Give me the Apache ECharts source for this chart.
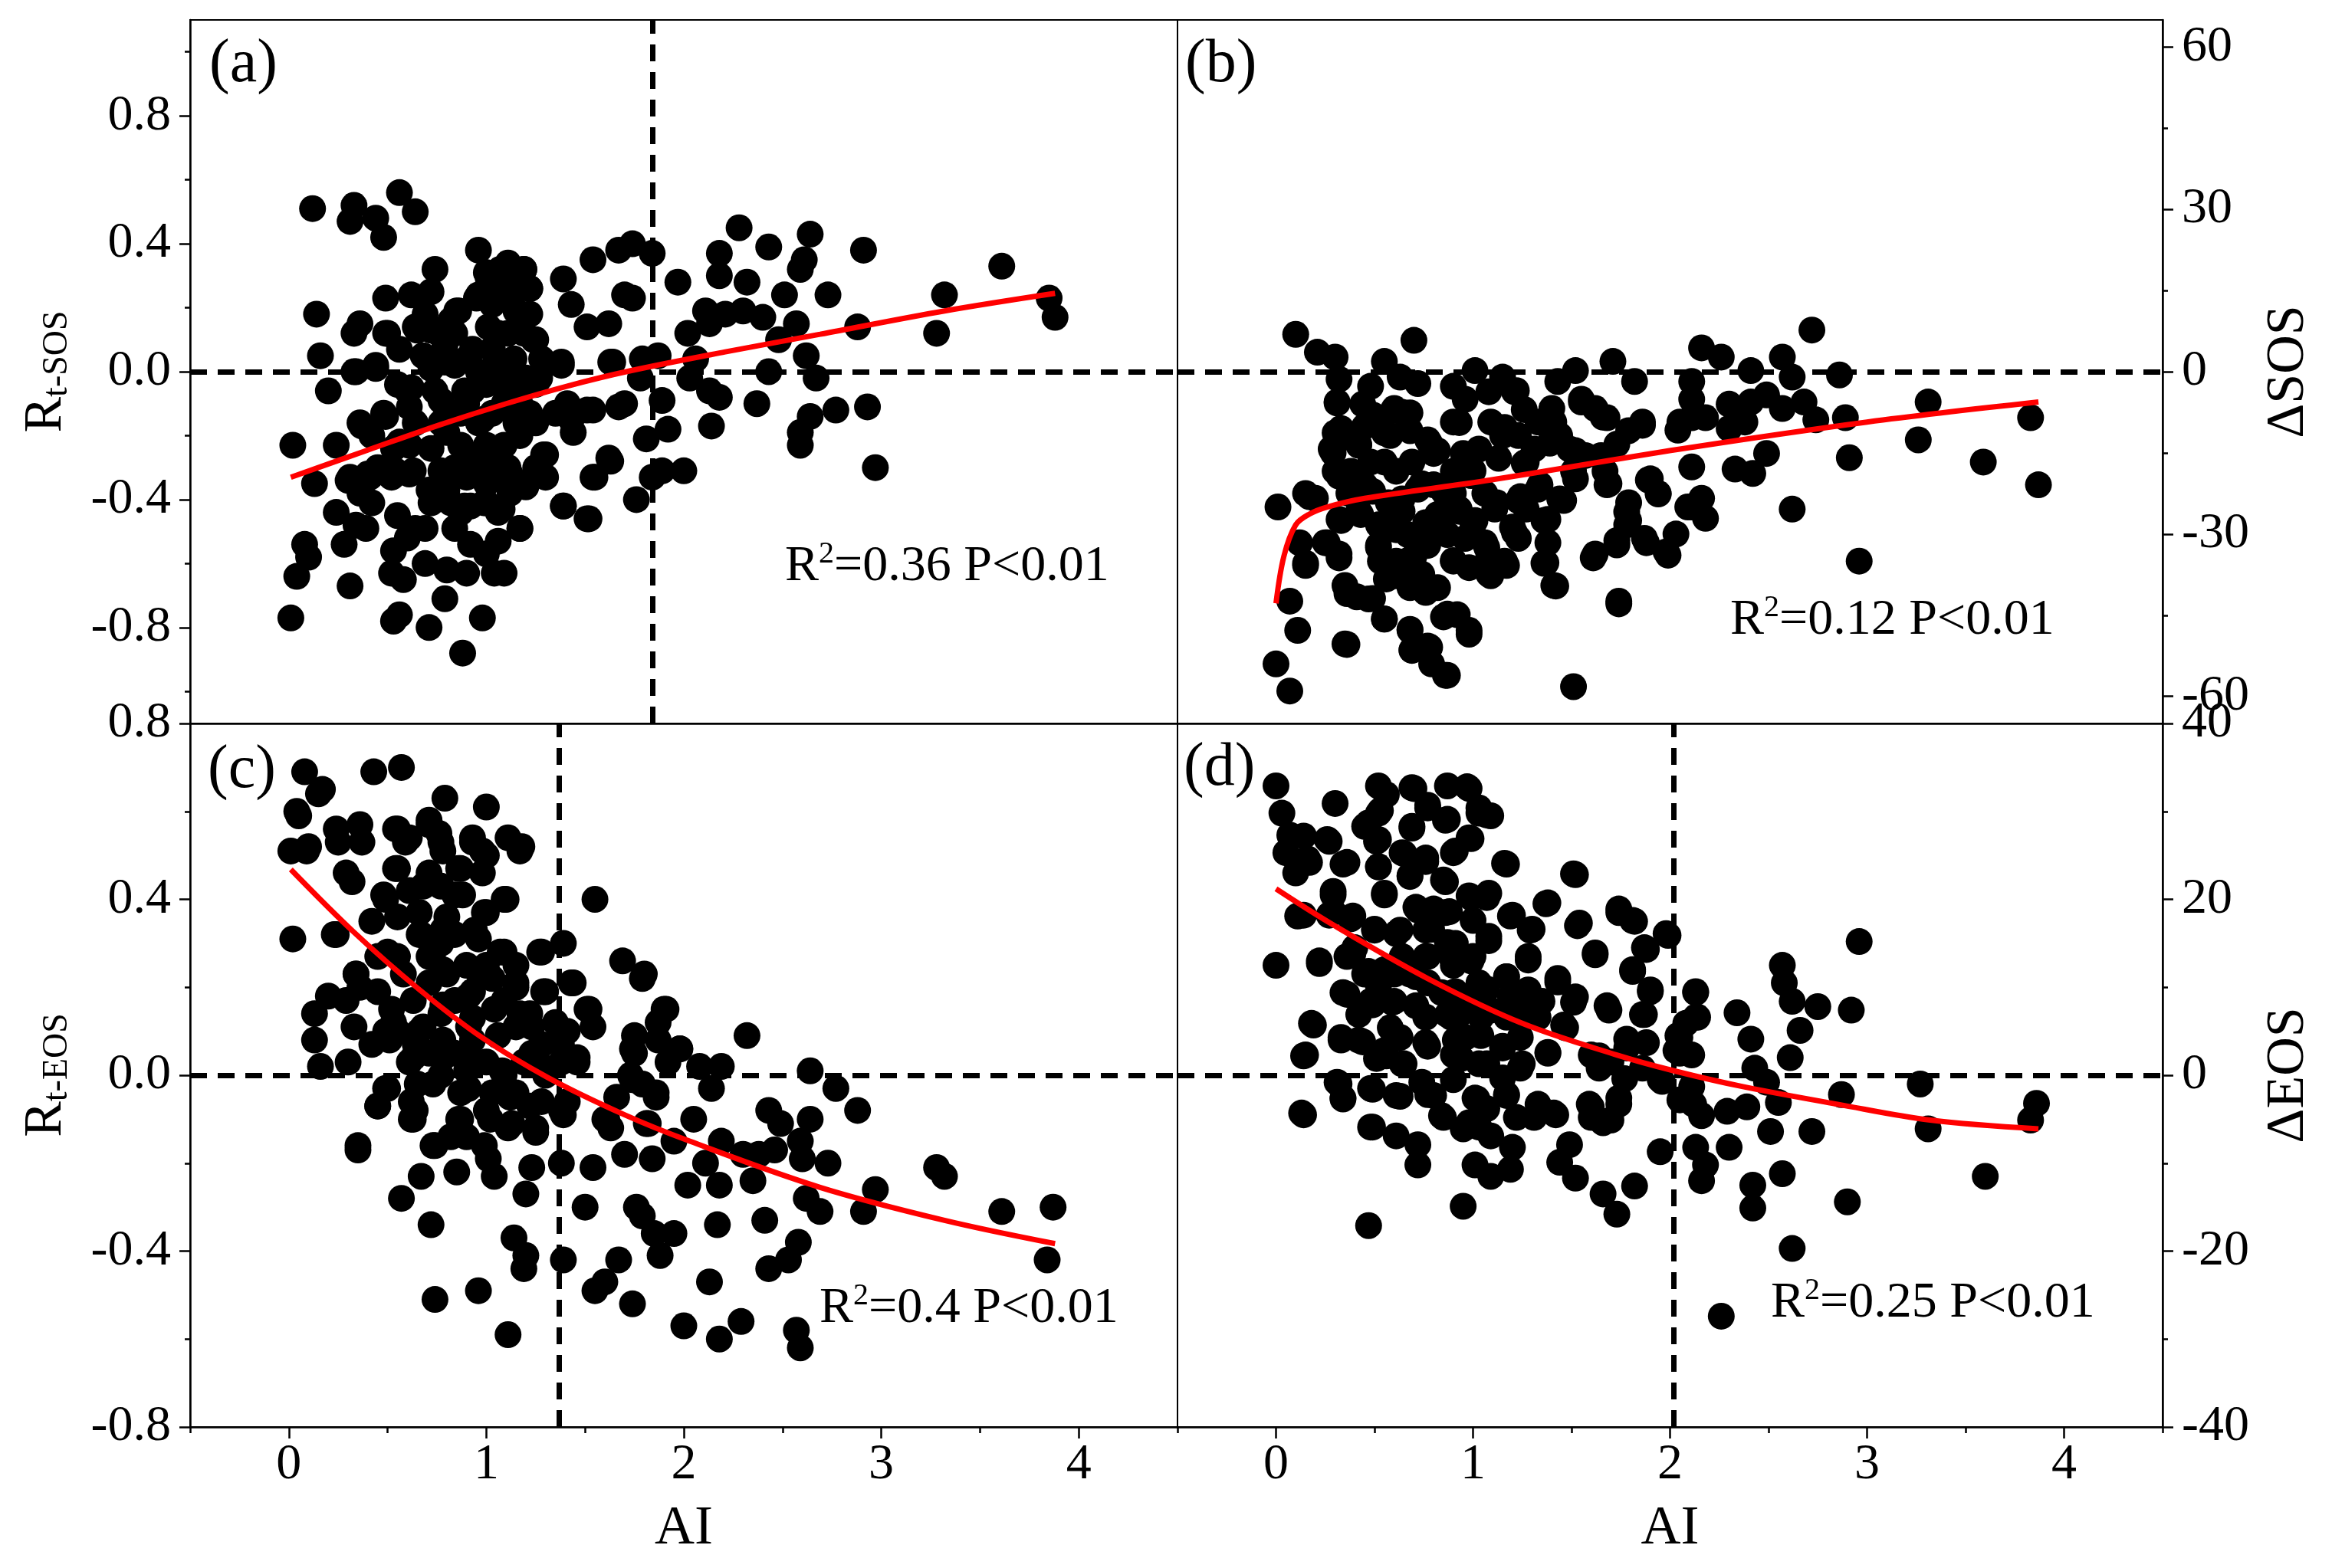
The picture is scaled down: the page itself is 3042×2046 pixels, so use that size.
<!DOCTYPE html>
<html lang="en" style="height: 100%">
<head>
<meta charset="utf-8">
<title>AI vs R and delta SOS/EOS</title>
</head>
<body style="height: 100%; margin: 0; background: #fff">
<div id="container" style="height: 100%"></div>

<script type="text/javascript" src="https://cdn.jsdelivr.net/npm/echarts/dist/echarts.min.js"></script>

<script type="text/javascript">

// ---- data: [AI, value] ----
var ptsA = [
  [0.12,0.51],[0.33,0.52],[0.31,0.47],[0.44,0.48],[0.48,0.42],[0.56,0.56],[0.64,0.50],[0.14,0.18],[0.16,0.05],[0.20,-0.06],
  [0.02,-0.23],[0.13,-0.35],[0.08,-0.54],[0.10,-0.58],[0.04,-0.64],[0.01,-0.77],[0.33,0.12],[0.36,0.15],[0.34,0.00],[0.24,-0.23],
  [0.24,-0.44],[0.31,-0.33],[0.41,-0.33],[0.36,-0.16],[0.42,-0.20],[0.28,-0.54],[0.31,-0.67],[0.34,-0.48],[0.39,-0.49],[0.44,0.02],
  [0.49,0.23],[0.62,0.24],[0.50,0.12],[0.64,0.14],[0.56,0.07],[0.55,-0.04],[0.60,-0.06],[0.48,-0.13],[0.53,-0.24],[0.52,-0.33],
  [0.61,-0.32],[0.55,-0.45],[0.53,-0.56],[0.52,-0.63],[0.56,-0.76],[0.53,-0.78],[0.60,-0.52],[0.64,-0.49],[0.58,-0.65],[0.74,0.32],
  [0.72,0.25],[0.69,0.18],[0.76,0.12],[0.80,0.14],[0.68,0.05],[0.79,0.03],[0.74,-0.06],[0.77,-0.09],[0.80,-0.19],[0.72,-0.24],
  [0.77,-0.31],[0.72,-0.41],[0.69,-0.49],[0.69,-0.60],[0.71,-0.80],[0.79,-0.71],[0.80,-0.62],[0.84,-0.49],[0.85,0.19],[0.82,-0.41],
  [0.96,0.38],[1.00,0.31],[0.95,0.23],[1.01,0.14],[0.93,0.07],[0.96,0.00],[0.93,-0.06],[0.90,-0.10],[1.03,-0.13],[1.00,-0.23],
  [1.00,-0.30],[0.90,-0.33],[0.92,-0.42],[0.87,-0.44],[0.92,-0.54],[0.90,-0.63],[1.00,-0.57],[1.06,-0.53],[0.98,-0.77],[0.88,-0.88],
  [1.04,-0.63],[1.09,-0.63],[1.06,-0.33],[1.00,-0.41],[1.06,-0.44],[1.07,0.32],[1.11,0.34],[1.09,0.24],[1.11,0.12],[1.19,0.32],
  [1.22,0.26],[1.15,0.19],[1.19,0.12],[1.25,0.10],[1.14,0.04],[1.20,-0.02],[1.15,-0.09],[1.22,-0.13],[1.17,-0.20],[1.30,-0.26],
  [1.25,-0.30],[1.20,-0.35],[1.30,-0.33],[1.17,-0.49],[1.11,-0.30],[1.27,-0.02],[1.39,0.29],[1.43,0.21],[1.38,0.03],[1.41,-0.10],
  [1.54,-0.12],[1.44,-0.19],[1.39,-0.42],[1.52,-0.46],[1.55,-0.33],[1.63,-0.28],[1.54,0.35],[1.51,0.14],[1.67,0.38],[1.74,0.40],
  [1.62,0.15],[1.70,0.24],[1.74,0.23],[1.63,0.03],[1.70,-0.10],[1.78,-0.02],[1.79,0.04],[1.76,-0.40],[1.84,-0.33],[1.81,-0.21],
  [1.84,0.37],[1.87,0.05],[1.89,-0.09],[1.92,-0.18],[1.89,-0.31],[2.00,-0.31],[1.97,0.28],[2.02,0.12],[2.18,0.37],[2.18,0.30],
  [2.13,0.15],[2.21,0.18],[2.03,-0.02],[2.06,0.04],[2.13,-0.06],[2.18,-0.08],[2.14,-0.17],[2.11,0.19],[2.28,0.45],[2.32,0.28],
  [2.30,0.19],[2.40,0.17],[2.43,0.39],[2.48,0.10],[2.51,0.24],[2.37,-0.10],[2.43,0.00],[2.64,0.43],[2.61,0.35],[2.59,0.32],
  [2.57,0.15],[2.62,0.05],[2.67,-0.02],[2.73,0.24],[2.77,-0.12],[2.64,-0.14],[2.59,-0.19],[2.59,-0.23],[2.88,0.14],[2.91,0.38],
  [2.93,-0.11],[2.97,-0.30],[3.28,0.12],[3.32,0.24],[3.61,0.33],[3.85,0.23],[3.88,0.17],
  [0.84,0.12],[0.90,0.04],[1.03,0.07],[1.09,-0.02],[1.00,-0.04],[1.09,-0.10],[1.15,-0.16],[0.96,-0.16],[0.87,-0.23],[1.09,-0.23],
  [0.93,-0.27],[0.84,-0.30],[0.80,-0.37],[1.12,-0.38],[1.03,0.21],[1.15,0.26],[1.22,0.18],[1.28,0.04],[1.06,0.12],[0.87,-0.13],
  [1.25,-0.16],[1.35,-0.13],[1.00,-0.35],[0.71,-0.37],[0.61,-0.23],[0.64,-0.16],[0.77,-0.16],[0.45,-0.30],[0.42,-0.41],[0.36,-0.38],
  [1.10,0.33],[1.19,0.32],[1.22,0.26],[1.01,0.29],[0.96,0.24],[0.86,0.19],[0.72,0.13],[0.65,0.13],[0.49,0.12],[0.33,0.00],
  [0.44,0.01],[0.62,-0.05],[0.61,-0.11],[0.49,-0.14],[0.37,-0.17],[0.56,-0.22],[0.63,-0.31],[0.54,-0.31],[0.40,-0.32],[0.30,-0.34],
  [0.72,-0.37],[0.79,-0.37],[0.89,-0.42],[0.99,-0.41],[1.08,-0.43],[1.17,-0.49],[1.20,-0.36],[1.29,-0.26],[1.38,0.02],[1.43,-0.15],
  [1.51,-0.12],[1.64,0.03],[1.67,-0.11],[1.62,-0.27],[1.54,-0.33],[1.39,-0.42],[1.51,-0.46],[1.03,0.07],[1.06,0.03],[1.24,0.10],
  [1.25,-0.04],[1.17,-0.10],[1.10,-0.06],[0.98,-0.15],[0.89,-0.06],[0.84,0.02],[0.92,-0.26],[1.01,-0.26],[1.12,-0.32],[0.72,0.01],
  [0.79,0.08],[0.82,0.16]
];

var ptsB = [
  [0.10,6.9],[0.70,5.8],[0.21,3.6],[0.30,2.7],[0.55,1.9],[0.63,-1.0],[0.72,-2.2],[0.32,-1.4],[0.48,-2.7],[0.31,-5.6],
  [0.44,-6.0],[0.33,-10.5],[0.28,-14.3],[0.30,-18.4],[0.01,-25.0],[0.15,-22.5],[0.20,-23.4],[0.12,-31.6],[0.15,-35.4],[0.26,-31.6],
  [0.32,-33.7],[0.07,-42.4],[0.11,-47.8],[0.00,-54.0],[0.07,-59.0],[0.35,-50.3],[0.35,-39.5],[0.41,-41.6],[0.47,-42.0],[0.55,-45.7],
  [0.68,-47.8],[0.69,-51.5],[0.79,-54.0],[0.87,-56.1],[0.85,-45.3],[0.92,-44.9],[0.98,-47.8],[0.77,-50.7],[1.51,-58.2],[1.74,-42.4],
  [1.41,-39.5],[2.96,-35.0],[2.62,-25.4],[2.72,7.7],[2.16,4.4],[2.26,2.7],[2.57,2.7],[2.41,0.2],[2.86,-0.6],[3.31,-5.6],
  [3.83,-8.5],[3.87,-20.9],[3.59,-16.7],[3.26,-12.6],[2.91,-15.9],[2.89,-8.5],[2.74,-8.9],[2.68,-5.6],[2.62,-1.0],[2.57,-6.8],
  [2.49,-4.3],[2.41,-5.6],[2.30,-6.0],[2.30,-10.5],[2.38,-9.3],[2.49,-15.1],[2.42,-18.8],[2.33,-18.0],[2.11,-1.8],[2.11,-5.1],
  [2.11,-8.5],[2.18,-8.5],[2.05,-9.3],[2.11,-17.6],[2.16,-23.4],[2.11,-25.0],[2.18,-27.1],[2.03,-30.0],[1.98,-33.3],[1.87,-30.8],
  [1.79,-24.2],[1.79,-27.5],[1.73,-31.2],[1.62,-33.7],[1.89,-20.0],[1.94,-22.5],[1.86,-9.3],[1.79,-10.9],[1.68,-8.5],[1.62,-6.8],
  [1.55,-5.1],[1.52,0.2],[1.43,-1.8],[1.71,1.9],[1.82,-1.8],[1.73,-13.4],[1.67,-18.4],[1.68,-20.9],[1.57,-15.5],[1.49,-14.3],
  [1.51,-18.4],[1.40,-6.8],[1.41,-9.3],[1.44,-11.8],[1.33,-9.3],[1.31,-14.3],[1.27,-16.7],[1.34,-20.9],[1.46,-23.8],[1.36,-27.5],
  [1.38,-31.6],[1.36,-35.4],[1.15,-1.0],[1.22,-3.5],[1.01,0.2],[0.90,-2.7],[0.96,-5.1],[0.90,-9.3],[1.09,-9.3],[1.15,-11.8],
  [1.23,-11.8],[1.03,-14.3],[0.95,-15.1],[0.77,-12.6],[0.80,-15.1],[0.68,-7.6],[0.60,-6.8],[0.54,-8.5],[0.45,-10.1],[0.58,-11.8],
  [0.55,-16.7],[0.61,-18.4],[0.69,-16.7],[0.72,-21.7],[0.90,-18.4],[0.99,-19.2],[1.06,-22.5],[1.12,-24.2],[1.23,-23.8],[1.27,-25.4],
  [1.20,-28.7],[1.23,-30.8],[1.16,-35.0],[1.08,-37.4],[0.98,-36.2],[0.90,-35.0],[0.96,-30.8],[1.06,-31.6],[0.84,-29.2],[0.76,-27.9],
  [0.77,-32.1],[0.74,-37.4],[0.76,-40.8],[0.68,-39.9],[0.56,-38.3],[0.61,-35.0],[0.52,-32.1],[0.53,-35.0],[0.52,-28.3],[0.42,-25.8],
  [0.37,-22.5],[0.33,-27.5],[0.57,-24.2],[0.64,-25.8],[0.87,-24.2],[0.93,-25.8],[1.01,-27.5],[0.90,-22.5],[0.80,-20.9],[0.45,-20.9],
  [0.38,-18.4],[0.42,-13.4],[0.48,-16.7],[0.31,-12.6],[0.68,-10.9],[0.61,-29.2],[0.70,-34.1],[0.82,-39.9],[1.08,-34.1],
  [0.31,-5.8],[0.30,-11.3],[0.29,-15.0],[0.32,-19.3],[0.42,-13.6],[0.64,-7.5],[0.78,-13.2],[0.82,-14.6],[0.93,-9.4],[1.08,-3.7],
  [1.21,-3.7],[1.39,-8.9],[1.55,-5.6],[1.66,-8.4],[1.86,-9.9],[2.04,-10.8],[1.52,-14.6],[1.65,-15.5],[1.69,-20.7],[1.52,-19.8],
  [1.90,-19.8],[1.94,-22.6],[2.09,-25.0],[1.78,-25.9],[1.78,-28.3],[1.73,-32.0],[1.61,-34.4],[1.88,-31.6],[1.99,-33.9],[1.42,-39.6],
  [1.74,-42.9],[1.38,-27.3],[1.37,-35.3],[1.21,-29.7],[1.17,-35.8],[1.09,-37.7],[0.90,-34.9],[0.77,-39.6],[0.55,-45.7],[0.36,-41.0],
  [0.49,-41.9],[0.68,-47.6],[0.36,-50.4],[0.87,-44.8],[0.98,-48.5],[0.69,-51.4],[0.78,-50.9],[0.86,-56.1],[0.15,-35.8],[0.25,-31.6],
  [0.32,-34.4],[0.52,-32.5],[0.61,-37.7],[0.67,-34.9],[0.77,-30.1],[0.87,-30.1],[1.00,-28.3],[1.07,-32.5],[1.11,-25.4],[1.24,-23.1],
  [1.33,-21.7],[1.44,-23.5],[0.43,-26.4],[0.32,-27.3],[0.17,-23.1],[0.49,-22.1],[0.64,-23.5],[0.74,-20.7],[0.85,-22.1],[1.00,-18.3],
  [1.13,-16.0],[1.26,-16.9],[1.39,-13.2],[1.16,-10.3],[1.26,-7.0],[0.49,-8.0],[0.55,-11.3],[0.93,-18.3],[0.82,-26.4],[0.93,-25.4],
  [0.56,-28.3],[0.67,-30.1]
];

var ptsC = [
  [0.08,0.69],[0.17,0.65],[0.04,0.60],[0.01,0.51],[0.10,0.52],[0.43,0.69],[0.57,0.70],[0.79,0.63],[1.00,0.61],[0.24,0.56],
  [0.36,0.57],[0.37,0.53],[0.25,0.53],[0.29,0.46],[0.32,0.44],[0.55,0.56],[0.61,0.54],[0.71,0.58],[0.77,0.53],[0.93,0.54],
  [1.11,0.54],[1.18,0.52],[1.00,0.50],[0.98,0.46],[0.87,0.47],[0.55,0.47],[0.71,0.46],[0.48,0.41],[0.61,0.42],[0.77,0.43],
  [0.88,0.41],[1.09,0.40],[1.00,0.37],[1.55,0.40],[0.02,0.31],[0.24,0.32],[0.42,0.35],[0.55,0.36],[0.66,0.37],[0.80,0.36],
  [0.66,0.32],[0.77,0.30],[0.96,0.31],[1.09,0.28],[0.90,0.25],[1.00,0.25],[1.27,0.28],[1.39,0.30],[1.69,0.26],[1.80,0.23],
  [1.44,0.21],[1.30,0.19],[0.34,0.23],[0.20,0.18],[0.13,0.14],[0.13,0.08],[0.16,0.02],[0.30,0.03],[0.33,0.11],[0.29,0.17],
  [0.45,0.19],[0.52,0.15],[0.49,0.10],[0.63,0.17],[0.71,0.21],[0.80,0.23],[0.68,0.11],[0.77,0.14],[0.93,0.19],[0.93,0.13],
  [1.09,0.17],[1.15,0.21],[1.22,0.14],[1.06,0.09],[0.93,0.08],[0.84,0.05],[0.71,0.05],[0.61,0.03],[0.55,0.10],[0.65,-0.02],
  [0.77,0.00],[0.87,-0.04],[1.00,0.03],[1.09,0.00],[1.19,0.03],[1.28,0.07],[1.35,0.12],[1.41,0.10],[1.51,0.15],[1.54,0.11],
  [1.46,0.04],[1.38,0.07],[1.90,0.15],[1.87,0.12],[1.75,0.09],[1.75,0.05],[1.98,0.06],[1.92,0.03],[2.32,0.09],[2.08,0.02],
  [2.19,0.02],[2.14,-0.03],[2.64,0.01],[2.77,-0.03],[2.88,-0.08],[1.73,0.00],[1.79,-0.02],[1.86,-0.05],[1.66,-0.05],[1.60,-0.10],
  [1.63,-0.12],[1.81,-0.11],[2.05,-0.10],[1.95,-0.15],[2.43,-0.08],[2.49,-0.11],[2.64,-0.10],[2.46,-0.17],[2.59,-0.15],[2.19,-0.15],
  [2.30,-0.18],[2.38,-0.18],[2.60,-0.19],[2.73,-0.20],[1.70,-0.18],[1.84,-0.19],[2.11,-0.20],[2.18,-0.25],[2.02,-0.25],[2.35,-0.24],
  [2.62,-0.28],[2.69,-0.31],[2.97,-0.26],[2.91,-0.31],[3.28,-0.21],[3.32,-0.23],[3.61,-0.31],[3.87,-0.30],[3.84,-0.42],[1.54,-0.21],
  [1.38,-0.20],[1.23,-0.21],[1.20,-0.27],[1.04,-0.23],[1.01,-0.19],[0.85,-0.22],[0.67,-0.23],[0.57,-0.28],[0.72,-0.34],[0.35,-0.17],
  [0.45,-0.07],[0.50,-0.03],[0.63,-0.10],[0.62,-0.06],[0.74,-0.16],[0.82,-0.14],[0.90,-0.14],[0.87,-0.10],[1.00,-0.08],[1.11,-0.12],
  [1.25,-0.12],[1.39,-0.09],[1.28,-0.06],[1.12,-0.05],[1.50,-0.30],[1.76,-0.30],[1.79,-0.32],[1.85,-0.36],[1.95,-0.36],[2.17,-0.34],
  [2.41,-0.33],[2.58,-0.38],[2.53,-0.42],[2.43,-0.44],[1.88,-0.41],[1.67,-0.42],[1.39,-0.42],[1.14,-0.37],[1.20,-0.41],[1.19,-0.44],
  [0.96,-0.49],[0.74,-0.51],[1.11,-0.59],[1.60,-0.47],[1.55,-0.49],[1.74,-0.52],[2.13,-0.47],[2.00,-0.57],[2.18,-0.60],[2.29,-0.56],
  [2.57,-0.58],[2.59,-0.62],
  [0.45,0.27],[0.58,0.23],[0.84,0.17],[1.03,0.22],[1.15,0.11],[0.90,0.01],[0.64,0.07],[0.42,0.07],[0.36,0.20],[0.55,0.27],
  [0.71,0.27],[0.84,0.32],[1.15,0.25],[1.28,0.02],[1.03,-0.04],[1.22,-0.07],
  [0.15,0.64],[0.05,0.59],[0.09,0.51],[0.54,0.56],[0.71,0.57],[0.76,0.55],[0.59,0.53],[0.78,0.51],[0.93,0.53],[0.98,0.51],
  [1.17,0.51],[0.54,0.47],[0.86,0.47],[0.49,0.40],[0.68,0.43],[0.84,0.41],[1.10,0.40],[0.99,0.37],[0.66,0.37],[0.23,0.32],
  [0.67,0.32],[0.78,0.33],[0.94,0.33],[0.50,0.28],[0.73,0.28],[1.07,0.28],[1.28,0.28],[0.34,0.23],[0.53,0.12],[0.51,0.08],
  [0.66,0.10],[0.78,0.24],[0.95,0.24],[1.15,0.20],[1.29,0.19],[1.79,0.22],[1.43,0.21],[1.52,0.15],[1.38,0.10],[1.91,0.15],
  [1.87,0.08],[1.74,0.06],[1.98,0.06],[0.91,0.18],[1.04,0.15],[1.17,0.14],[1.23,0.11],[0.78,0.16],[0.63,0.04],[0.78,0.04],
  [0.91,0.03],[1.08,0.01],[1.23,0.05],[1.38,0.03],[1.46,0.03],[0.49,-0.03],[0.45,-0.07],[0.64,-0.08],[0.62,-0.10],[0.86,-0.10],
  [1.02,-0.10],[1.13,-0.11],[1.25,-0.13],[1.38,-0.08],[1.41,-0.06],[1.61,-0.10],[1.82,-0.11],[1.86,-0.04],[1.74,-0.01],[0.73,-0.02],
  [0.91,-0.03],[1.15,-0.04],[0.99,-0.16],[0.73,-0.16],[0.35,-0.16],[0.78,0.08],[0.91,0.11],[1.30,0.00]
];

var ptsD = [
  [0.00,32.9],[0.03,29.8],[0.07,27.3],[0.05,25.3],[0.10,23.0],[0.17,24.2],[0.11,18.1],[0.00,12.5],[0.22,13.0],[0.18,5.9],
  [0.15,2.3],[0.13,-4.3],[0.30,30.9],[0.26,26.8],[0.36,24.2],[0.29,20.9],[0.29,18.6],[0.39,18.1],[0.40,14.5],[0.34,9.4],
  [0.33,4.3],[0.44,3.8],[0.31,-0.8],[0.34,-2.6],[0.48,-5.9],[0.47,-17.1],[0.48,-1.5],[0.45,28.3],[0.52,32.9],[0.56,31.9],
  [0.53,30.1],[0.52,26.8],[0.52,23.7],[0.55,20.7],[0.50,16.6],[0.61,16.1],[0.45,11.5],[0.48,8.4],[0.60,8.4],[0.55,2.8],
  [0.64,1.3],[0.61,-2.3],[0.61,-6.9],[0.72,-7.9],[0.72,-10.2],[0.69,32.7],[0.69,28.3],[0.64,25.3],[0.68,22.7],[0.76,24.7],
  [0.77,30.4],[0.87,32.9],[0.97,32.8],[0.87,29.1],[0.98,27.0],[0.90,25.3],[0.85,22.2],[1.07,29.6],[1.03,30.4],[1.16,24.1],
  [1.51,22.9],[0.98,20.4],[1.08,20.7],[0.71,19.1],[0.80,18.9],[0.88,18.6],[0.79,16.6],[0.87,15.1],[1.00,17.6],[1.08,15.8],
  [1.19,18.1],[1.30,16.6],[1.38,19.6],[1.54,17.3],[1.74,18.9],[1.81,17.6],[1.98,16.1],[1.87,14.5],[1.62,13.9],[1.28,13.5],
  [1.00,13.5],[0.90,12.5],[0.68,11.5],[0.77,10.5],[1.17,11.2],[1.43,11.0],[1.81,12.0],[1.90,9.7],[2.13,9.4],[1.52,8.9],
  [1.35,8.4],[1.19,8.9],[1.00,8.9],[0.93,6.9],[1.09,7.4],[1.28,6.9],[1.68,7.9],[1.86,6.9],[2.14,6.6],[2.08,5.9],
  [2.34,7.1],[2.57,12.5],[2.58,10.5],[2.62,8.4],[2.75,7.8],[2.92,7.4],[2.96,15.2],[2.66,5.1],[2.41,4.1],[2.61,2.0],
  [2.43,0.8],[2.49,-0.8],[2.55,-3.1],[2.87,-2.2],[3.27,-1.0],[3.86,-3.2],[3.83,-5.1],[3.31,-6.1],[3.60,-11.5],[2.90,-14.4],
  [2.72,-6.4],[2.51,-6.4],[2.62,-19.7],[2.26,-27.4],[2.57,-11.2],[2.42,-12.5],[2.42,-15.1],[2.30,-8.2],[2.29,-4.1],[2.39,-3.6],
  [2.16,-4.6],[2.13,-8.2],[2.18,-10.2],[2.16,-12.0],[1.95,-8.7],[2.05,-2.8],[2.11,-1.3],[2.11,2.3],[2.05,4.3],[2.03,2.8],
  [1.95,-0.5],[1.86,0.8],[1.78,4.1],[1.70,1.5],[1.60,2.3],[1.74,-2.6],[1.70,-5.1],[1.59,-3.3],[1.60,-4.8],[1.49,-7.9],
  [1.44,-9.9],[1.52,-11.7],[1.66,-13.5],[1.73,-15.8],[1.82,-12.6],[1.41,-4.3],[1.31,-4.8],[1.38,2.6],[1.25,1.3],[1.15,-0.3],
  [1.17,-2.3],[1.07,-3.8],[1.22,-4.8],[1.03,-5.9],[1.09,-6.9],[1.20,-8.2],[1.01,-10.2],[1.09,-11.5],[1.19,-10.7],[0.95,-14.9],
  [0.95,-6.1],[0.84,-4.6],[1.01,-2.6],[0.90,-0.5],[0.80,-2.3],[0.74,-0.8],[0.77,3.3],[0.90,2.3],[0.96,4.3],[1.03,1.3],
  [1.15,3.3],[1.24,4.3],[1.31,7.4],[0.58,5.4],[0.63,4.3],[0.87,6.9],[0.71,7.9],[1.28,9.7],[1.47,5.4],
  [0.84,9.4],[1.03,10.5],[0.64,13.5],[0.55,12.0],[0.36,13.5],[0.42,6.9],[0.77,13.5],
  [0.70,32.6],[0.98,32.6],[0.52,29.8],[0.77,30.7],[0.86,29.0],[1.03,29.8],[1.09,29.5],[0.69,28.1],[0.47,28.7],[0.51,26.6],
  [0.27,26.6],[0.14,27.2],[0.34,24.0],[0.16,24.6],[0.65,25.2],[0.76,24.3],[0.91,25.5],[0.99,26.9],[0.52,23.7],[0.68,22.6],
  [0.86,22.0],[0.55,20.5],[0.29,20.5],[0.38,17.8],[0.27,18.2],[0.14,18.2],[0.72,18.8],[0.86,18.5],[0.99,20.2],[1.07,20.2],
  [1.20,18.2],[1.29,16.5],[1.37,19.5],[1.52,22.8],[1.17,24.0],[1.53,17.0],[1.74,18.5],[1.82,17.5],[1.99,15.9],[1.88,14.3],
  [1.62,13.7],[1.81,11.8],[1.90,9.5],[2.13,9.5],[0.50,16.5],[0.63,16.5],[0.76,16.5],[0.91,15.0],[1.08,15.3],[0.39,13.8],
  [0.22,12.7],[0.47,11.8],[0.76,13.5],[0.89,13.5],[0.99,13.0],[1.28,13.1],[1.17,11.2],[0.60,11.5],[0.71,11.2],[0.36,9.2],
  [0.52,10.1],[0.91,9.5],[1.07,9.8],[1.28,8.9],[1.43,10.6],[1.51,8.3],[1.69,7.4],[1.87,6.9],[0.49,8.0],[0.59,8.3],
  [0.76,6.6],[0.89,6.6],[1.04,6.6],[1.17,6.6],[1.33,6.6],[1.46,5.7],[0.19,5.7],[0.33,4.0],[0.42,4.0],[0.56,2.2],
  [0.76,3.7],[0.91,4.0],[1.04,4.5],[1.15,3.1],[1.24,0.8],[1.38,2.5],[1.64,2.2],[1.78,3.1],[1.88,3.7],[2.04,4.5],
  [2.13,6.6],[2.05,2.5],[1.96,-0.7],[1.77,-0.4],[1.64,0.8],[0.94,1.9],[1.07,1.3],[0.65,1.3],[0.51,1.9],[0.14,2.2],
  [0.32,-1.0],[0.34,-2.7],[0.49,-1.6],[0.63,-2.4],[0.77,-2.2],[1.02,-2.7],[1.17,-2.2],[1.33,-3.3],[1.42,-4.5],[1.60,-3.6],
  [1.74,-3.3],[1.66,-5.4],[0.85,-4.8],[0.98,-5.4],[0.49,-5.9],[0.14,-4.5],[2.12,-3.3]
];

// fitted curves
var fitA = [[0.01,-0.33],[0.4,-0.245],[0.77,-0.165],[1.1,-0.1],[1.41,-0.045],[1.73,0.003],[2.21,0.062],[2.69,0.117],[3.32,0.19],[3.88,0.245]];
var fitB = [[0.0,-42.8],[0.04,-34.1],[0.10,-28.3],[0.17,-26.3],[0.26,-25.0],[0.45,-23.4],[1.09,-20.0],[2.05,-14.3],[3.0,-9.3],[3.87,-5.6]];
var fitC = [[0.01,0.468],[0.33,0.325],[0.66,0.195],[0.98,0.085],[1.31,-0.005],[1.7,-0.09],[2.03,-0.15],[2.69,-0.255],[3.32,-0.33],[3.88,-0.383]];
var fitD = [[0.0,21.2],[0.29,17.1],[0.77,11.0],[1.25,5.9],[1.73,2.3],[2.02,0.5],[2.37,-1.3],[2.85,-3.3],[3.32,-5.1],[3.87,-6.1]];

// vertical reference lines (AI)
var refA = 1.845, refC = 1.37, refD = 2.02;

// tick values
var aiTicks = [0, 1, 2, 3, 4];
var aiMinor = [-0.5, 0.5, 1.5, 2.5, 3.5, 4.5];
var rTicks = [-0.8, -0.4, 0, 0.4, 0.8];
var rMinorTop = [-1.0, -0.6, -0.2, 0.2, 0.6, 1.0];
var rMinorBot = [-0.6, -0.2, 0.2, 0.6];
var sosTicks = [-60, -30, 0, 30, 60];
var sosMinor = [-45, -15, 15, 45];
var eosTicks = [-40, -20, 0, 20, 40];
var eosMinor = [-30, -10, 10, 30];

var FONT = "'Liberation Serif', 'Times New Roman', serif";
var BLACK = '#000';

var dom = document.getElementById('container');
var myChart = echarts.init(dom);

function xAxisMain(grid, withLabels) {
  return {
    type: 'value', gridIndex: grid, position: 'bottom', min: -0.5, max: 4.5,
    splitLine: {show: false},
    axisLine: {show: true, onZero: false, lineStyle: {color: BLACK, width: 2.5}},
    axisTick: {show: withLabels, customValues: aiTicks, length: 15, lineStyle: {color: BLACK, width: 2.5}},
    axisLabel: {show: withLabels, customValues: aiTicks, margin: 17, color: BLACK, fontSize: 66, fontFamily: FONT},
    name: withLabels ? 'AI' : '', nameLocation: 'middle', nameGap: 97,
    nameTextStyle: {color: BLACK, fontSize: 72, fontFamily: FONT}
  };
}
function xAxisMinor(grid) {
  return {
    type: 'value', gridIndex: grid, position: 'bottom', min: -0.5, max: 4.5,
    splitLine: {show: false},
    axisLine: {show: false, onZero: false},
    axisTick: {show: true, customValues: aiMinor, length: 8, lineStyle: {color: BLACK, width: 2.5}},
    axisLabel: {show: false}
  };
}
function yAxisMain(grid, pos, min, max, ticks, fmt, name, gap) {
  return {
    type: 'value', gridIndex: grid, position: pos, min: min, max: max,
    splitLine: {show: false},
    axisLine: {show: true, onZero: false, lineStyle: {color: BLACK, width: 2.5}},
    axisTick: {show: true, customValues: ticks, length: 14, lineStyle: {color: BLACK, width: 2.5}},
    axisLabel: {customValues: ticks, margin: 25, color: BLACK, fontSize: 66, fontFamily: FONT, formatter: fmt},
    name: name, nameLocation: 'middle', nameRotate: 90, nameGap: gap,
    nameTextStyle: {
      color: BLACK, fontSize: 70, fontFamily: FONT,
      rich: {
        r: {fontSize: 70, fontFamily: FONT, lineHeight: 72, verticalAlign: 'top', color: BLACK},
        s: {fontSize: 46, fontFamily: FONT, lineHeight: 46, padding: [40, 0, 0, 0], verticalAlign: 'bottom', color: BLACK}
      }
    }
  };
}
function yAxisMinor(grid, pos, min, max, ticks) {
  return {
    type: 'value', gridIndex: grid, position: pos, min: min, max: max,
    splitLine: {show: false},
    axisLine: {show: false, onZero: false},
    axisTick: {show: true, customValues: ticks, length: 7, lineStyle: {color: BLACK, width: 2.5}},
    axisLabel: {show: false}
  };
}

function dashed(list) {
  return {
    silent: true, symbol: 'none', animation: false,
    label: {show: false},
    lineStyle: {color: BLACK, type: [22, 14], width: 7},
    data: list
  };
}
function scatter(xi, yi, data, marks) {
  return {
    type: 'scatter', xAxisIndex: xi, yAxisIndex: yi, data: data,
    symbol: 'circle', symbolSize: 35, z: 2,
    itemStyle: {color: BLACK, opacity: 1},
    markLine: dashed(marks)
  };
}
function fit(xi, yi, data) {
  return {
    type: 'line', xAxisIndex: xi, yAxisIndex: yi, data: data,
    smooth: 0.35, showSymbol: false, z: 5,
    lineStyle: {color: '#ff0000', width: 7}
  };
}
function fmt1(v) { return (Math.abs(v) < 1e-9 ? 0 : v).toFixed(1); }
function fmt0(v) { return String(v); }

function stat(left, top, r2) {
  return {
    type: 'text', left: left, top: top, z: 10,
    style: {
      text: '{r|R}{s|2}{r|=' + r2 + ' P<0.01}',
      fill: BLACK,
      rich: {
        r: {fontSize: 66, fontFamily: FONT, lineHeight: 70, verticalAlign: 'bottom', fill: BLACK},
        s: {fontSize: 40, fontFamily: FONT, lineHeight: 40, verticalAlign: 'top', fill: BLACK}
      }
    }
  };
}
function tag(left, top, t) {
  return {
    type: 'text', left: left, top: top, z: 10,
    style: {text: t, fill: BLACK, font: '80px ' + FONT}
  };
}

var gridStyle = {show: true, borderColor: BLACK, borderWidth: 2, containLabel: false};

option = {
  animation: false,
  backgroundColor: '#fff',
  grid: [
    Object.assign({left: 248, top: 26, width: 1288, height: 918}, gridStyle),
    Object.assign({left: 1536, top: 26, width: 1285, height: 918}, gridStyle),
    Object.assign({left: 248, top: 944, width: 1288, height: 918}, gridStyle),
    Object.assign({left: 1536, top: 944, width: 1285, height: 918}, gridStyle)
  ],
  xAxis: [
    xAxisMain(0, false),
    xAxisMain(1, false),
    xAxisMain(2, true),
    xAxisMinor(2),
    xAxisMain(3, true),
    xAxisMinor(3)
  ],
  yAxis: [
    yAxisMain(0, 'left', -1.1, 1.1, rTicks, fmt1, '{r|R}{s|t-SOS}', 150),
    yAxisMinor(0, 'left', -1.1, 1.1, rMinorTop),
    yAxisMain(1, 'right', -65, 65, sosTicks, fmt0, 'ΔSOS', 130),
    yAxisMinor(1, 'right', -65, 65, sosMinor),
    yAxisMain(2, 'left', -0.8, 0.8, rTicks, fmt1, '{r|R}{s|t-EOS}', 150),
    yAxisMinor(2, 'left', -0.8, 0.8, rMinorBot),
    yAxisMain(3, 'right', -40, 40, eosTicks, fmt0, 'ΔEOS', 130),
    yAxisMinor(3, 'right', -40, 40, eosMinor)
  ],
  series: [
    scatter(0, 0, ptsA, [{yAxis: 0}, {xAxis: refA}]),
    fit(0, 0, fitA),
    scatter(1, 2, ptsB, [{yAxis: 0}]),
    fit(1, 2, fitB),
    scatter(2, 4, ptsC, [{yAxis: 0}, {xAxis: refC}]),
    fit(2, 4, fitC),
    scatter(4, 6, ptsD, [{yAxis: 0}, {xAxis: refD}]),
    fit(4, 6, fitD)
  ],
  graphic: [
    tag(273, 45, '(a)'),
    tag(1546, 45, '(b)'),
    tag(271, 966, '(c)'),
    tag(1544, 963, '(d)'),
    stat(1024, 703, '0.36'),
    stat(2257, 773, '0.12'),
    stat(1069, 1671, '0.4'),
    stat(2310, 1664, '0.25')
  ]
};

if (option && typeof option === 'object') {
  myChart.setOption(option);
}

window.addEventListener('resize', myChart.resize);
</script>
</body>
</html>
